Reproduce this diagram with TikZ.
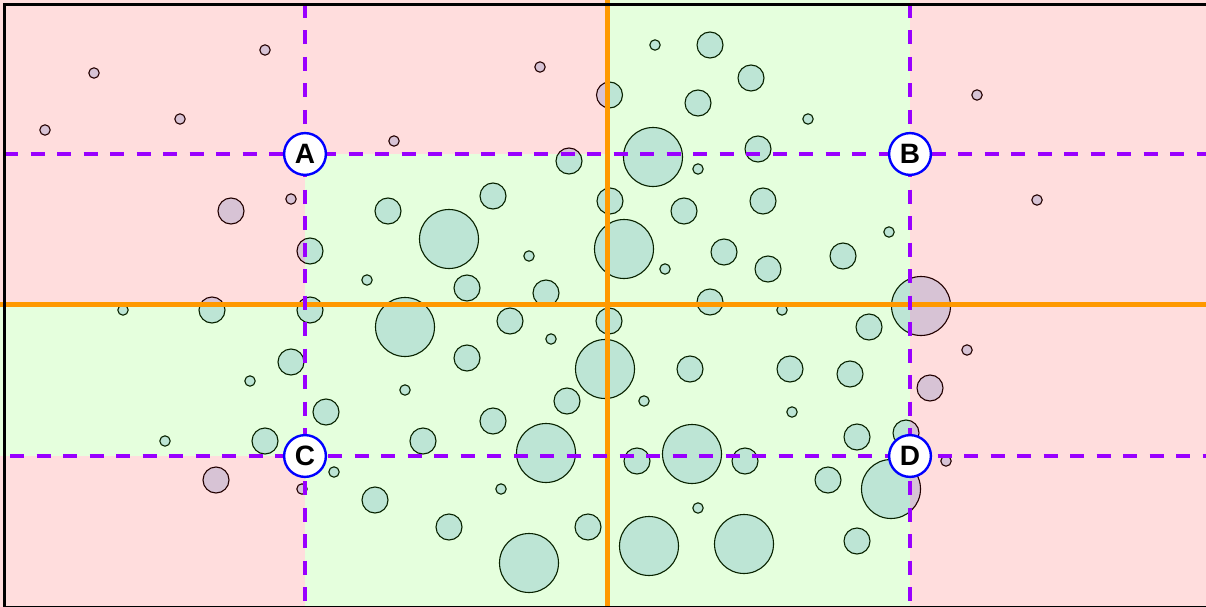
\documentclass[tikz,border=0pt]{standalone}
\usepackage{fontspec}
\setmainfont{Liberation Sans}
\definecolor{bubblefill}{RGB}{209,226,246}
\definecolor{cellred}{RGB}{255,0,0}
\definecolor{cellgreen}{RGB}{60,255,0}
\definecolor{gridorange}{RGB}{255,153,0}
\definecolor{gridpurple}{RGB}{153,0,255}
\begin{document}
\begin{tikzpicture}[x=1pt,y=-1pt,
  bubblestyle/.style={fill=bubblefill,draw=black,line width=1.1pt},
  pinkcell/.style={fill=cellred,fill opacity=0.133},
  greencell/.style={fill=cellgreen,fill opacity=0.133},
  axisline/.style={draw=gridorange,line width=4.5pt},
  dashline/.style={draw=gridpurple,line width=3.6pt,dash pattern=on 14pt off 12.5pt},
  marker/.style={circle,draw=blue,fill=white,line width=2.4pt,minimum size=41.8pt,inner sep=0pt,font=\fontsize{28}{28}\selectfont\bfseries}]
\useasboundingbox (0,0) rectangle (1206,607);
\fill[white] (0,0) rectangle (1206,607);
% bubbles
\foreach \x/\y in {265/50,94/73,180/119,45/130,394/141,291/199,540/67,655/45,808/119,698/169,529/256,665/269,367/280,977/95,1037/200,889/232,123/310,782/310,551/339,405/390,644/401,792/412,967/350,946/461,501/489,698/508,334/472,302/489,165/441,250/381}
  \draw[bubblestyle] (\x,\y) circle[radius=5.2];
\foreach \x/\y in {231/211,388/211,310/251,609.5/95,710/45,751/78,698/103,758/149,569/161,493/196,610/201,684/211,763/201,724/252,768/269,467/288,546/293,710/302,843/256,212/310,310/310,510/321,609/321,467/358,567/401,493/421,423/441,690/369,790/369,869/327,850/374,930/388,857/437,906/433,637/461,745/461,828/480,857/541,449/527,588/527,375/500,216/480,265/441,326/412,291/362}
  \draw[bubblestyle] (\x,\y) circle[radius=13];
\foreach \x/\y in {653/157,449/239,624/249,921/306,405/327,605/369,546/453,692/454,891/489,529/563,649/546,744/544}
  \draw[bubblestyle] (\x,\y) circle[radius=29.5];
% cells
\fill[pinkcell] (0,0) rectangle (305,154);
\fill[pinkcell] (305,0) rectangle (607,154);
\fill[greencell] (607,0) rectangle (910,154);
\fill[pinkcell] (910,0) rectangle (1206,154);
\fill[pinkcell] (0,154) rectangle (305,304);
\fill[greencell] (305,154) rectangle (607,304);
\fill[greencell] (607,154) rectangle (910,304);
\fill[pinkcell] (910,154) rectangle (1206,304);
\fill[greencell] (0,304) rectangle (305,456);
\fill[greencell] (305,304) rectangle (607,456);
\fill[greencell] (607,304) rectangle (910,456);
\fill[pinkcell] (910,304) rectangle (1206,456);
\fill[pinkcell] (0,456) rectangle (305,607);
\fill[greencell] (305,456) rectangle (607,607);
\fill[greencell] (607,456) rectangle (910,607);
\fill[pinkcell] (910,456) rectangle (1206,607);
% axes
\draw[axisline] (607.3,0) -- (607.3,607);
\draw[axisline] (0,304.7) -- (1206,304.7);
% dashed guides
\draw[dashline] (4,154) -- (1206,154);
\draw[dashline,dash phase=20.5pt] (4,456) -- (1206,456);
\draw[dashline] (305,4) -- (305,607);
\draw[dashline] (910,4) -- (910,607);
% markers
\node[marker] (A) at (305,154) {A};
\node[marker] (B) at (910,154) {B};
\node[marker] (C) at (305,456) {C};
\node[marker] (D) at (910,456) {D};
% frame
\draw[line width=3.2pt] (4.2,4.2) rectangle (1209,607.8);
\end{tikzpicture}
\end{document}
